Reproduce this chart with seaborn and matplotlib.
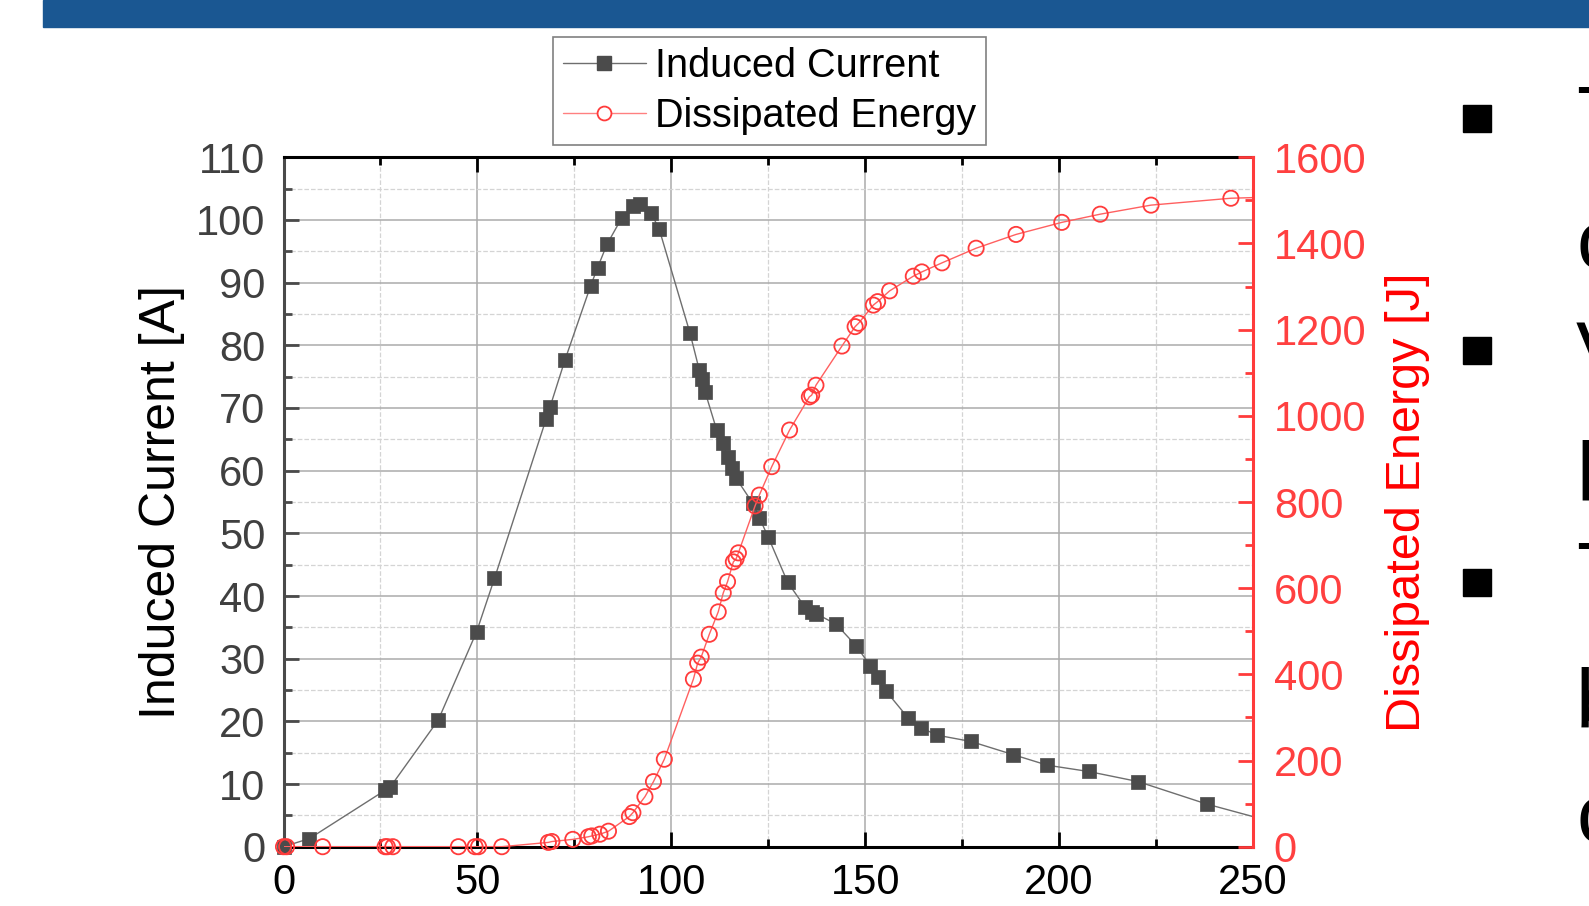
import matplotlib
matplotlib.use('Agg')
import matplotlib.pyplot as plt
from matplotlib.lines import Line2D
from matplotlib.patches import Rectangle
from matplotlib.ticker import MultipleLocator
import seaborn as sns
import pandas as pd

# induced current (left axis)
t_current = [0, 6.7, 26.2, 27.5, 39.9, 49.8, 54.4, 67.7, 68.7, 72.6, 79.2, 81.0,
             83.4, 87.2, 90.2, 91.8, 94.8, 96.9, 104.8, 107.2, 107.9, 108.7, 111.7,
             113.3, 114.5, 115.7, 116.7, 121.0, 122.7, 125.0, 130.0, 134.5, 136.2,
             137.3, 142.5, 147.6, 151.3, 153.2, 155.4, 161.0, 164.4, 168.5, 177.2,
             188.1, 197.0, 207.6, 220.3, 238.1]
current = [0, 1.3, 9.0, 9.5, 20.2, 34.3, 42.8, 68.2, 70.1, 77.7, 89.5, 92.4,
           96.1, 100.3, 102.2, 102.5, 101.1, 98.5, 82.0, 76.1, 74.7, 72.6, 66.5,
           64.4, 62.2, 60.4, 58.8, 54.8, 52.5, 49.4, 42.2, 38.2, 37.5,
           37.2, 35.5, 32.1, 28.9, 27.0, 24.8, 20.6, 19.0, 17.8, 16.8,
           14.7, 13.0, 12.0, 10.4, 6.8]

# dissipated energy (right axis)
t_energy = [0, 0.8, 10.1, 26.2, 26.8, 28.2, 45.1, 49.4, 50.3, 56.3, 68.3, 69.2,
            74.6, 78.6, 79.5, 81.6, 83.8, 89.2, 90.1, 93.2, 95.4, 98.2, 105.7,
            106.8, 107.7, 109.8, 112.1, 113.4, 114.5, 116.0, 116.7, 117.3, 121.6,
            122.7, 125.9, 130.5, 135.6, 136.2, 137.3, 144.0, 147.4, 148.3, 152.1,
            153.2, 156.3, 162.4, 164.6, 169.8, 178.6, 188.9, 200.7, 210.6, 223.7,
            244.3]
energy = [0, 0, 0, 0, 0, 0, 0, 0, 0, 0, 10, 12,
          17, 23, 25, 29, 36, 70, 79, 116, 151, 203, 389,
          426, 440, 493, 545, 589, 615, 661, 668, 682, 791,
          816, 882, 967, 1044, 1048, 1071, 1162, 1207, 1215, 1257,
          1265, 1290, 1324, 1334, 1355, 1389, 1421, 1449, 1468, 1489,
          1505]

# the curves run on past the right edge of the frame
t_tail = [256]
current_tail = [3.8]
energy_tail = [1508]

x_ticks = [0, 50, 100, 150, 200, 250]
left_ticks = list(range(0, 111, 10))
right_ticks = list(range(0, 1601, 200))

df_c = pd.DataFrame({'t': t_current, 'I': current})
df_e = pd.DataFrame({'t': t_energy, 'E': energy})
df_c_line = pd.DataFrame({'t': t_current + t_tail, 'I': current + current_tail})
df_e_line = pd.DataFrame({'t': t_energy + t_tail, 'E': energy + energy_tail})

sns.set_style('white')
plt.rcParams['font.family'] = ['Liberation Sans', 'DejaVu Sans']

W, H = 1589, 906
fig = plt.figure(figsize=(W / 100, H / 100), dpi=100)

# slide decoration
fig.patches.append(Rectangle((43 / W, 1 - 27 / H), 1, 27 / H, transform=fig.transFigure,
                             color='#1a5792', zorder=0))
for ytop in [105, 337, 569]:
    fig.patches.append(Rectangle((1463 / W, 1 - (ytop + 27) / H), 28 / W, 27 / H,
                                 transform=fig.transFigure, color='black'))
for ch, yb in [('T', 144), ('c', 268), ('V', 380), ('l', 500), ('T', 600), ('b', 728), ('c', 842)]:
    fig.text(1576 / W, 1 - yb / H, ch, fontsize=60, color='black', va='baseline', ha='left')

ax = fig.add_axes([283.5 / W, 1 - 846.7 / H, 969.5 / W, 689.4 / H])
ax2 = ax.twinx()

gray_line = '#6e6e6e'
sq_color = '#4b4b4b'
red = '#ff3b3b'

sns.lineplot(data=df_c_line, x='t', y='I', ax=ax, color=gray_line, lw=1.0,
             estimator=None, sort=False)
sns.scatterplot(data=df_c, x='t', y='I', ax=ax, marker='s', s=115, color=sq_color,
                edgecolor=sq_color, linewidth=0.5, clip_on=False, zorder=4)

sns.lineplot(data=df_e_line, x='t', y='E', ax=ax2, color='#ff6060', lw=1.0,
             estimator=None, sort=False)
sns.scatterplot(data=df_e, x='t', y='E', ax=ax2, marker='o', s=120, facecolor='none',
                edgecolor=red, linewidth=1.3, clip_on=False, zorder=4)

ax.set_xlim(0, 250)
ax.set_ylim(0, 110)
ax2.set_ylim(0, 1600)
ax.set_xticks(x_ticks)
ax.set_yticks(left_ticks)
ax2.set_yticks(right_ticks)
ax.xaxis.set_minor_locator(MultipleLocator(25))
ax.yaxis.set_minor_locator(MultipleLocator(5))
ax2.yaxis.set_minor_locator(MultipleLocator(100))

ax.grid(which='major', color='#ababab', lw=1.1, ls='-')
ax.grid(which='minor', color='#d4d4d4', lw=0.9, ls='--')
ax.set_axisbelow(True)

ax.tick_params(axis='x', which='both', direction='in', top=True, bottom=True,
               color='black', labelcolor='black', labelsize=30, pad=12)
ax.tick_params(axis='y', which='both', direction='in', left=True, right=False,
               color='#4a4a4a', labelcolor='#404040', labelsize=30, pad=13)
ax.tick_params(which='major', length=11, width=2)
ax.tick_params(which='minor', length=6, width=2)
ax2.tick_params(axis='y', which='both', direction='in', color=red, labelcolor='#ff4040',
                labelsize=30, pad=15)
ax2.tick_params(which='major', length=11, width=2)
ax2.tick_params(which='minor', length=6, width=2)

for side in ['top', 'bottom']:
    ax.spines[side].set_color('black')
    ax.spines[side].set_linewidth(2.2)
ax.spines['left'].set_color('#4a4a4a')
ax.spines['left'].set_linewidth(2.2)
ax.spines['right'].set_visible(False)
for side in ['top', 'bottom', 'left']:
    ax2.spines[side].set_visible(False)
ax2.spines['right'].set_color(red)
ax2.spines['right'].set_linewidth(2.2)

ax.set_xlabel('')
ax.set_ylabel('Induced Current [A]', fontsize=36, color='black', va='center')
ax.yaxis.set_label_coords(-0.125, 0.5)
ax2.set_ylabel('Dissipated Energy [J]', fontsize=35, color='#ff0000', va='center')
ax2.yaxis.set_label_coords(1.159, 0.5)

handles = [
    Line2D([0], [0], color=gray_line, lw=1.0, marker='s', markersize=10,
           markerfacecolor=sq_color, markeredgecolor=sq_color),
    Line2D([0], [0], color='#ff8080', lw=1.0, marker='o', markersize=10,
           markerfacecolor='white', markeredgecolor=red, markeredgewidth=1.3),
]
leg = fig.legend(handles, ['Induced Current', 'Dissipated Energy'], loc='upper left',
                 bbox_to_anchor=(553 / W, 1 - 37 / H), borderaxespad=0, fontsize=28.5,
                 labelcolor='black', frameon=True, fancybox=False, edgecolor='#808080',
                 framealpha=1, handlelength=2.1, handletextpad=0.22, labelspacing=0.3,
                 borderpad=0.25)
leg.get_frame().set_linewidth(1.2)

fig.savefig('out.png', dpi=100)
